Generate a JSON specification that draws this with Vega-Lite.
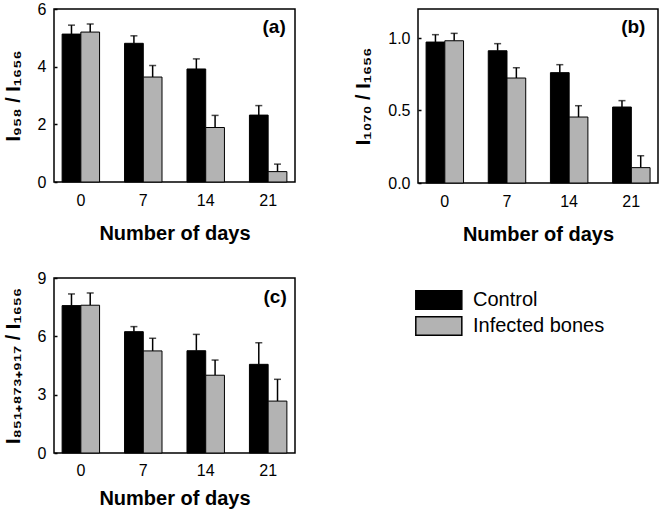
{
  "$schema": "https://vega.github.io/schema/vega-lite/v6.json",
  "padding": {"left": 2, "top": 0, "right": 0, "bottom": 0},
  "background": "white",
  "config": {
    "font": "Liberation Sans",
    "view": {"stroke": "black", "strokeWidth": 1.5},
    "axis": {"grid": false, "domain": false, "labelFontSize": 16, "labelColor": "black", "titleFontSize": 20, "titleFontWeight": "bold", "titleColor": "black", "tickColor": "black", "labelFont": "Liberation Sans", "titleFont": "Liberation Sans"},
    "axisX": {"ticks": false, "labelPadding": 10, "titlePadding": 15, "labelAngle": 0},
    "axisY": {"tickSize": -3, "tickWidth": 1.5, "labelPadding": 11, "titlePadding": 14},
    "legend": {"labelFont": "Liberation Sans"}
  },
  "data": {"values": [
    {"panel": "a", "day": "0", "group": "Control", "value": 5.13, "upper": 5.44},
    {"panel": "a", "day": "0", "group": "Infected bones", "value": 5.20, "upper": 5.48},
    {"panel": "a", "day": "7", "group": "Control", "value": 4.81, "upper": 5.07},
    {"panel": "a", "day": "7", "group": "Infected bones", "value": 3.64, "upper": 4.04},
    {"panel": "a", "day": "14", "group": "Control", "value": 3.92, "upper": 4.27},
    {"panel": "a", "day": "14", "group": "Infected bones", "value": 1.89, "upper": 2.31},
    {"panel": "a", "day": "21", "group": "Control", "value": 2.32, "upper": 2.65},
    {"panel": "a", "day": "21", "group": "Infected bones", "value": 0.36, "upper": 0.62},
    {"panel": "b", "day": "0", "group": "Control", "value": 0.972, "upper": 1.023},
    {"panel": "b", "day": "0", "group": "Infected bones", "value": 0.981, "upper": 1.032},
    {"panel": "b", "day": "7", "group": "Control", "value": 0.912, "upper": 0.961},
    {"panel": "b", "day": "7", "group": "Infected bones", "value": 0.724, "upper": 0.795},
    {"panel": "b", "day": "14", "group": "Control", "value": 0.761, "upper": 0.816},
    {"panel": "b", "day": "14", "group": "Infected bones", "value": 0.455, "upper": 0.533},
    {"panel": "b", "day": "21", "group": "Control", "value": 0.524, "upper": 0.568},
    {"panel": "b", "day": "21", "group": "Infected bones", "value": 0.106, "upper": 0.188},
    {"panel": "c", "day": "0", "group": "Control", "value": 7.58, "upper": 8.18},
    {"panel": "c", "day": "0", "group": "Infected bones", "value": 7.60, "upper": 8.23},
    {"panel": "c", "day": "7", "group": "Control", "value": 6.24, "upper": 6.50},
    {"panel": "c", "day": "7", "group": "Infected bones", "value": 5.25, "upper": 5.90},
    {"panel": "c", "day": "14", "group": "Control", "value": 5.26, "upper": 6.10},
    {"panel": "c", "day": "14", "group": "Infected bones", "value": 4.00, "upper": 4.78},
    {"panel": "c", "day": "21", "group": "Control", "value": 4.56, "upper": 5.67},
    {"panel": "c", "day": "21", "group": "Infected bones", "value": 2.67, "upper": 3.79}
  ]},
  "resolve": {"legend": {"color": "independent"}},
  "spacing": 24,
  "vconcat": [
    {
      "hconcat": [
        {
          "width": 241, "height": 173,
          "transform": [{"filter": "datum.panel === 'a'"}],
          "layer": [
            {
              "mark": {"type": "rule", "color": "black", "strokeWidth": 1.5},
              "encoding": {
                "x": {"field": "day", "type": "nominal", "sort": ["0", "7", "14", "21"], "scale": {"paddingInner": 0.4, "paddingOuter": 0.13}, "title": "Number of days"},
                "xOffset": {"field": "group", "type": "nominal", "sort": ["Control", "Infected bones"]},
                "y": {"field": "value", "type": "quantitative", "scale": {"domain": [0, 6], "nice": false}, "axis": {"values": [0, 2, 4, 6], "title": "I₉₅₈ / I₁₆₅₆"}},
                "y2": {"field": "upper"}
              }
            },
            {
              "mark": {"type": "bar", "stroke": "black", "strokeWidth": 1},
              "encoding": {
                "x": {"field": "day", "type": "nominal", "sort": ["0", "7", "14", "21"]},
                "xOffset": {"field": "group", "type": "nominal", "sort": ["Control", "Infected bones"]},
                "y": {"field": "value", "type": "quantitative"},
                "color": {"field": "group", "type": "nominal", "scale": {"domain": ["Control", "Infected bones"], "range": ["#000000", "#b3b3b3"]}, "legend": null}
              }
            },
            {
              "mark": {"type": "tick", "color": "black", "size": 7, "thickness": 1.5},
              "encoding": {
                "x": {"field": "day", "type": "nominal", "sort": ["0", "7", "14", "21"]},
                "xOffset": {"field": "group", "type": "nominal", "sort": ["Control", "Infected bones"]},
                "y": {"field": "upper", "type": "quantitative"}
              }
            },
            {
              "data": {"values": [{"label": "(a)"}]},
              "mark": {"type": "text", "fontSize": 19, "fontWeight": "bold", "color": "black", "align": "center", "baseline": "middle", "dx": 6},
              "encoding": {
                "x": {"datum": "21"},
                "y": {"datum": 5.38},
                "text": {"field": "label"}
              }
            }
          ]
        },
        {
          "width": 240, "height": 174,
          "transform": [{"filter": "datum.panel === 'b'"}],
          "layer": [
            {
              "mark": {"type": "rule", "color": "black", "strokeWidth": 1.5},
              "encoding": {
                "x": {"field": "day", "type": "nominal", "sort": ["0", "7", "14", "21"], "scale": {"paddingInner": 0.4, "paddingOuter": 0.13}, "title": "Number of days"},
                "xOffset": {"field": "group", "type": "nominal", "sort": ["Control", "Infected bones"]},
                "y": {"field": "value", "type": "quantitative", "scale": {"domain": [0, 1.2], "nice": false}, "axis": {"values": [0, 0.5, 1.0], "format": ".1f", "title": "I₁₀₇₀ / I₁₆₅₆"}},
                "y2": {"field": "upper"}
              }
            },
            {
              "mark": {"type": "bar", "stroke": "black", "strokeWidth": 1},
              "encoding": {
                "x": {"field": "day", "type": "nominal", "sort": ["0", "7", "14", "21"]},
                "xOffset": {"field": "group", "type": "nominal", "sort": ["Control", "Infected bones"]},
                "y": {"field": "value", "type": "quantitative"},
                "color": {"field": "group", "type": "nominal", "scale": {"domain": ["Control", "Infected bones"], "range": ["#000000", "#b3b3b3"]}, "legend": null}
              }
            },
            {
              "mark": {"type": "tick", "color": "black", "size": 7, "thickness": 1.5},
              "encoding": {
                "x": {"field": "day", "type": "nominal", "sort": ["0", "7", "14", "21"]},
                "xOffset": {"field": "group", "type": "nominal", "sort": ["Control", "Infected bones"]},
                "y": {"field": "upper", "type": "quantitative"}
              }
            },
            {
              "data": {"values": [{"label": "(b)"}]},
              "mark": {"type": "text", "fontSize": 19, "fontWeight": "bold", "color": "black", "align": "center", "baseline": "middle", "dx": 2},
              "encoding": {
                "x": {"datum": "21"},
                "y": {"datum": 1.076},
                "text": {"field": "label"}
              }
            }
          ]
        }
      ],
      "spacing": 57,
      "resolve": {"legend": {"color": "independent"}}
    },
    {
      "width": 241, "height": 175,
      "transform": [{"filter": "datum.panel === 'c'"}],
      "layer": [
        {
          "mark": {"type": "rule", "color": "black", "strokeWidth": 1.5},
          "encoding": {
            "x": {"field": "day", "type": "nominal", "sort": ["0", "7", "14", "21"], "scale": {"paddingInner": 0.4, "paddingOuter": 0.13}, "axis": {"title": "Number of days", "titlePadding": 10, "labelPadding": 9}},
            "xOffset": {"field": "group", "type": "nominal", "sort": ["Control", "Infected bones"]},
            "y": {"field": "value", "type": "quantitative", "scale": {"domain": [0, 9], "nice": false}, "axis": {"values": [0, 3, 6, 9], "title": "I₈₅₁₊₈₇₃₊₉₁₇ / I₁₆₅₆"}},
            "y2": {"field": "upper"}
          }
        },
        {
          "mark": {"type": "bar", "stroke": "black", "strokeWidth": 1},
          "encoding": {
            "x": {"field": "day", "type": "nominal", "sort": ["0", "7", "14", "21"]},
            "xOffset": {"field": "group", "type": "nominal", "sort": ["Control", "Infected bones"]},
            "y": {"field": "value", "type": "quantitative"},
            "color": {"field": "group", "type": "nominal", "scale": {"domain": ["Control", "Infected bones"], "range": ["#000000", "#b3b3b3"]},
              "legend": {"orient": "none", "legendX": 361, "legendY": 12, "title": null, "padding": 0, "symbolType": "M-1,-1H4V1H-1Z", "symbolSize": 339, "symbolStrokeColor": "black", "symbolStrokeWidth": 1.5, "symbolOpacity": 1, "labelFontSize": 20, "labelColor": "black", "labelOffset": 38, "rowPadding": 0}}
          }
        },
        {
          "mark": {"type": "tick", "color": "black", "size": 7, "thickness": 1.5},
          "encoding": {
            "x": {"field": "day", "type": "nominal", "sort": ["0", "7", "14", "21"]},
            "xOffset": {"field": "group", "type": "nominal", "sort": ["Control", "Infected bones"]},
            "y": {"field": "upper", "type": "quantitative"}
          }
        },
        {
          "data": {"values": [{"label": "(c)"}]},
          "mark": {"type": "text", "fontSize": 19, "fontWeight": "bold", "color": "black", "align": "center", "baseline": "middle", "dx": 7},
          "encoding": {
            "x": {"datum": "21"},
            "y": {"datum": 8.02},
            "text": {"field": "label"}
          }
        }
      ]
    }
  ]
}
